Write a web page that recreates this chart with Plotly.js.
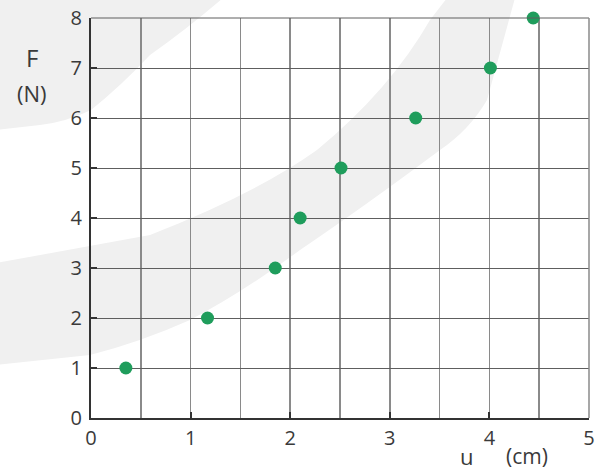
<!DOCTYPE html>
<html>
<head>
<meta charset="utf-8">
<script src="https://cdn.plot.ly/plotly-3.0.1.min.js"></script>
<style>html,body{margin:0;padding:0;background:#fff;}#chart{width:603px;height:474px;}</style>
</head>
<body>
<div id="chart"></div>
<script>
// Data
const displacement_cm = [0.35, 1.17, 1.85, 2.10, 2.51, 3.26, 4.01, 4.44];
const force_N = [1, 2, 3, 4, 5, 6, 7, 8];
const xTickVals = [0, 1, 2, 3, 4, 5];
const yTickVals = [0, 1, 2, 3, 4, 5, 6, 7, 8];

const trace = {
  x: displacement_cm,
  y: force_N,
  type: 'scatter',
  mode: 'markers',
  marker: {size: 13, color: '#1f9d5c', line: {width: 0}},
  hoverinfo: 'x+y',
  cliponaxis: false
};

const fam = '"Open Sans", "Liberation Sans", sans-serif';
const txt = '#3a3a3a';
const gridX = '#8a8a8a';
const gridY = '#5e5e5e';

const layout = {
  width: 603, height: 474,
  margin: {l: 91, r: 14, t: 18, b: 56},
  paper_bgcolor: '#fff',
  plot_bgcolor: 'rgba(0,0,0,0)',
  showlegend: false,
  font: {family: fam, size: 20, color: txt},
  xaxis: {
    range: [0, 5], tickvals: xTickVals, ticktext: xTickVals.map(String),
    showgrid: true, gridcolor: gridX, gridwidth: 1.5,
    minor: {dtick: 0.5, showgrid: true, gridcolor: gridX, gridwidth: 1.5, ticks: ''},
    ticks: 'inside', ticklen: 6, tickwidth: 2, tickcolor: '#333',
    showline: true, linecolor: '#333', linewidth: 2,
    zeroline: false, fixedrange: true,
    tickfont: {family: fam, size: 20, color: txt}, ticklabelstandoff: 1
  },
  yaxis: {
    range: [0, 8], tickvals: yTickVals, ticktext: yTickVals.map(String),
    showgrid: true, gridcolor: gridY, gridwidth: 1,
    ticks: 'inside', ticklen: 6, tickwidth: 2, tickcolor: '#333',
    showline: true, linecolor: '#333', linewidth: 2,
    zeroline: false, fixedrange: true,
    tickfont: {family: fam, size: 20, color: txt}, ticklabelstandoff: 3
  },
  shapes: [
    {
      type: 'path', xref: 'paper', yref: 'paper', layer: 'below',
      path: 'M -0.19,0.3875 L 0.1185,0.4575 Q 0.33,0.56 0.4538,0.67 Q 0.60,0.82 0.6807,0.995 L 0.7149,1.05 L 0.8514,1.05 L 0.7952,0.795 Q 0.76,0.72 0.7008,0.67 Q 0.55,0.53 0.4197,0.42 Q 0.30,0.31 0.1988,0.245 Q 0.10,0.19 -0.002,0.1575 L -0.19,0.1325 Z',
      fillcolor: '#f0f0f0', line: {width: 0}
    },
    {
      type: 'path', xref: 'paper', yref: 'paper', layer: 'below',
      path: 'M -0.19,1.05 L 0.2651,1.05 Q 0.19,0.97 0.1185,0.9075 Q 0.06,0.83 0,0.77 Q -0.05,0.74 -0.1024,0.7325 L -0.19,0.72 Z',
      fillcolor: '#f0f0f0', line: {width: 0}
    },
    {type: 'line', xref: 'paper', yref: 'paper', x0: 0, x1: 1, y0: 1, y1: 1, line: {color: gridY, width: 1}},
    {type: 'line', xref: 'paper', yref: 'paper', x0: 1, x1: 1, y0: 0, y1: 1, line: {color: gridX, width: 1.5}}
  ],
  annotations: [
    {text: 'F', xref: 'paper', yref: 'paper', x: -0.1185, y: 0.9025, xanchor: 'center', yanchor: 'middle', showarrow: false, font: {family: fam, size: 24, color: txt}},
    {text: '(N)', xref: 'paper', yref: 'paper', x: -0.1185, y: 0.8125, xanchor: 'center', yanchor: 'middle', showarrow: false, font: {family: fam, size: 22, color: txt}},
    {text: 'u', xref: 'paper', yref: 'paper', x: 0.755, y: -0.095, xanchor: 'center', yanchor: 'middle', showarrow: false, font: {family: fam, size: 22, color: txt}},
    {text: '(cm)', xref: 'paper', yref: 'paper', x: 0.876, y: -0.095, xanchor: 'center', yanchor: 'middle', showarrow: false, font: {family: fam, size: 21, color: txt}}
  ]
};

Plotly.newPlot('chart', [trace], layout, {displayModeBar: false, staticPlot: true});
</script>
</body>
</html>
